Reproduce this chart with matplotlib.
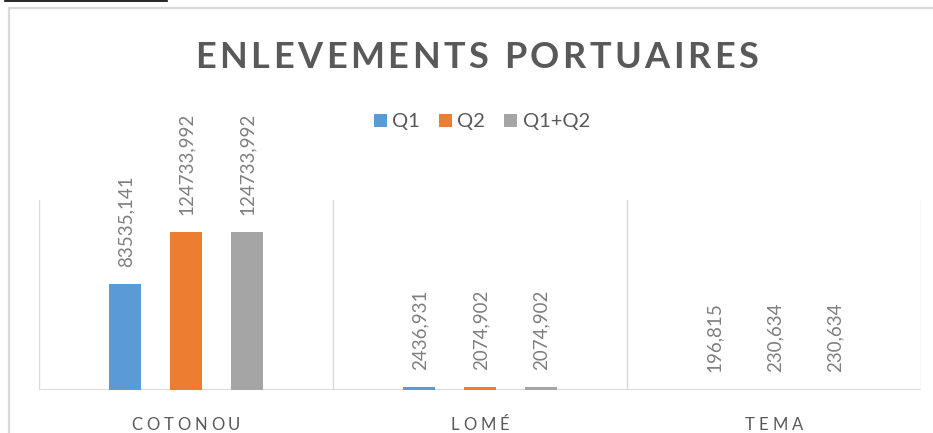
import matplotlib
matplotlib.use("Agg")
import matplotlib.pyplot as plt
import numpy as np
from matplotlib.font_manager import FontProperties, findfont
from matplotlib.ft2font import FT2Font
from matplotlib.patches import Patch, Rectangle
from matplotlib.lines import Line2D

# ---- data ----
categories = ["COTONOU", "LOMÉ", "TEMA"]
series_names = ["Q1", "Q2", "Q1+Q2"]
q1 = [83535.141, 2436.931, 196.815]
q2 = [124733.992, 2074.902, 230.634]
q1q2 = [124733.992, 2074.902, 230.634]
labels_q1 = ["83535,141", "2436,931", "196,815"]
labels_q2 = ["124733,992", "2074,902", "230,634"]
labels_q1q2 = ["124733,992", "2074,902", "230,634"]
title_text = "ENLEVEMENTS PORTUAIRES"

colors = ["#5B9BD5", "#ED7D31", "#A5A5A5"]
W, H, DPI = 933, 433, 100
FAM = "Lato"

fig = plt.figure(figsize=(W / DPI, H / DPI), dpi=DPI)
fig.patch.set_facecolor("white")

ax = fig.add_axes([39 / W, (H - 390) / H, 882 / W, 190 / H])
ax.set_xlim(-0.5, 2.5)
ax.set_ylim(0, 150000)
for s in ax.spines.values():
    s.set_visible(False)
ax.set_xticks([])
ax.set_yticks([])

x = np.arange(len(categories))
bw = 0.109
off = 0.206
series = [q1, q2, q1q2]
labs = [labels_q1, labels_q2, labels_q1q2]
for k, (vals, lab) in enumerate(zip(series, labs)):
    xs = x + (k - 1) * off
    ax.bar(xs, vals, width=bw, color=colors[k], zorder=3, label=series_names[k])
    for xi, v, t in zip(xs, vals, lab):
        ax.annotate(t, (xi, v), xytext=(0.5, 12.5), textcoords="offset points",
                    rotation=90, ha="center", va="bottom", color="#7f7f7f",
                    fontsize=13.5, family=FAM, zorder=4)

for b in [-0.5, 0.5, 1.5, 2.5]:
    ax.axvline(b, color="#d9d9d9", lw=1.0, zorder=1)
ax.axhline(0, color="#d9d9d9", lw=1.4, zorder=2)

# letter-spaced text helper (display pixel coords)
def advances(s, fp):
    f = FT2Font(findfont(fp))
    f.set_size(fp.get_size_in_points(), DPI)
    out = []
    for c in s:
        g = f.load_char(ord(c))
        out.append(g.linearHoriAdvance / 65536.0)
    return out

def spaced(s, xc, ybase, fp, color, spacing=None, total=None):
    adv = advances(s, fp)
    nat = sum(adv)
    if total is not None:
        spacing = (total - nat) / (len(s) - 1)
    tot = nat + spacing * (len(s) - 1)
    xpos = xc - tot / 2
    for c, a in zip(s, adv):
        fig.text(xpos / W, ybase / H, c, fontproperties=fp, color=color,
                 ha="left", va="baseline")
        xpos += a + spacing

# title
fp_title = FontProperties(family=FAM, weight="bold", size=26)
spaced(title_text, 476.5, H - 68, fp_title, "#595959", total=563)

# category labels
fp_cat = FontProperties(family=FAM, size=12)
for i, c in enumerate(categories):
    xd, _ = ax.transData.transform((i, 0))
    spaced(c, xd, H - 429.5, fp_cat, "#595959", spacing=3.8)

# legend
handles = [Patch(facecolor=colors[k], edgecolor="none") for k in range(3)]
leg = fig.legend(handles, series_names, loc="center", ncol=3,
                 bbox_to_anchor=(482 / W, 1 - 122 / H), frameon=False,
                 prop=FontProperties(family=FAM, size=14.5),
                 handlelength=0.65, handleheight=0.65, handletextpad=0.25,
                 columnspacing=0.95, borderpad=0, borderaxespad=0)
for t in leg.get_texts():
    t.set_color("#595959")

# chart border
fig.add_artist(Rectangle((9 / W, -0.2), 2.0, 1.2 - 8 / H, transform=fig.transFigure,
                         fill=False, edgecolor="#d9d9d9", lw=1.6))
# black line at top-left
fig.add_artist(Line2D([5 / W, 167 / W], [1 - 0.8 / H, 1 - 0.8 / H], transform=fig.transFigure,
                      color="black", lw=1.2))

fig.savefig("out.png", dpi=DPI)
